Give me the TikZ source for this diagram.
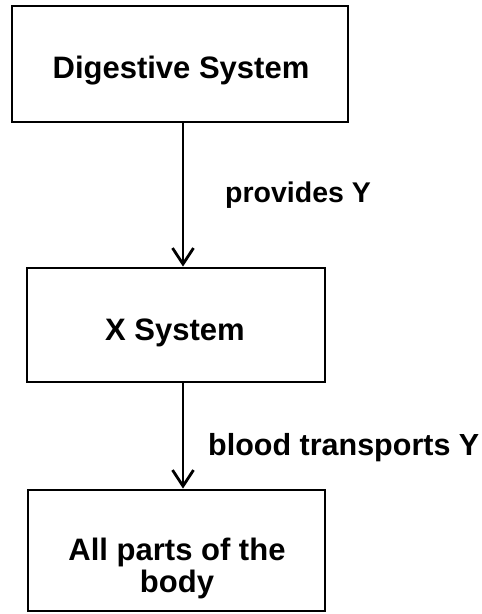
\documentclass[tikz,border=0pt]{standalone}
\usepackage{fontspec}
\setmainfont{Liberation Sans}
\usetikzlibrary{arrows.meta}
\begin{document}
\begin{tikzpicture}[x=1pt,y=-1pt,
  boxshape/.style={draw=black,line width=2.8pt,rectangle,inner sep=0pt},
  boxtext/.style={font=\fontsize{31}{33}\selectfont\bfseries,inner sep=0pt,anchor=base},
  labtext/.style={font=\fontsize{28.5}{30}\selectfont\bfseries,inner sep=0pt,anchor=base west},
  arr/.style={line width=2.8pt,-{Straight Barb[length=16pt,width=21pt,line width=2.8pt]}}]
\useasboundingbox (0,0) rectangle (482,614);
% boxes
\node[boxshape,minimum width=336pt,minimum height=116pt] (top) at (180,64) {};
\node[boxshape,minimum width=298pt,minimum height=114pt] (mid) at (176,325) {};
\node[boxshape,minimum width=297pt,minimum height=121pt] (bot) at (176.5,550.5) {};
% box texts
\node[boxtext] (toptext) at (181,78) {Digestive System};
\node[boxtext] (midtext) at (175,340) {X System};
\node[boxtext] (bottext1) at (177,560) {All parts of the};
\node[boxtext] (bottext2) at (177,592) {body};
% arrows
\coordinate (ax) at (183,0);
\draw[arr] (top.south -| ax) -- (mid.north -| ax);
\draw[arr] (mid.south -| ax) -- (bot.north -| ax);
% labels
\node[labtext] (lab1) at (225,202) {provides Y};
\node[labtext,font=\fontsize{30.5}{32}\selectfont\bfseries] (lab2) at (208,455) {blood transports Y};
\end{tikzpicture}
\end{document}
